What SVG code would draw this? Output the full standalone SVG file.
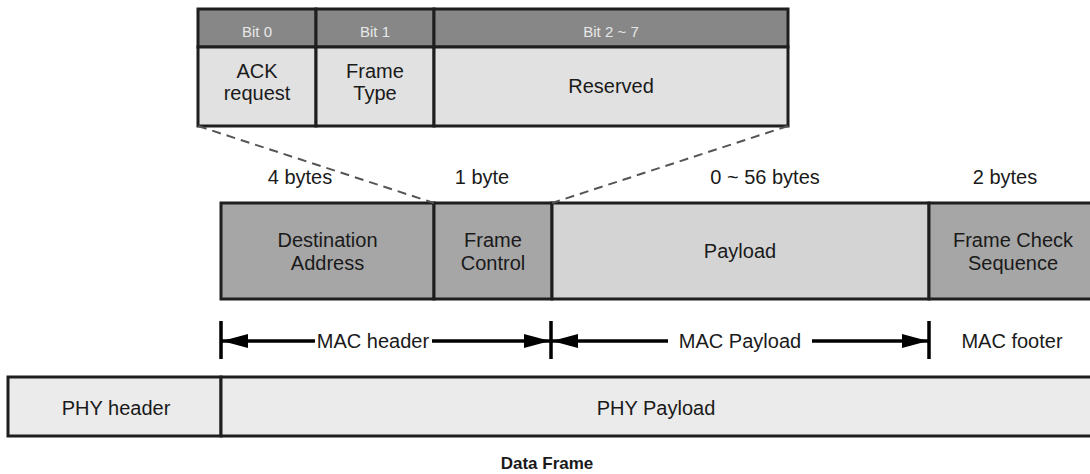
<svg xmlns="http://www.w3.org/2000/svg" width="1090" height="474" viewBox="0 0 1090 474">
  <style>
    .t { font-family: "Liberation Sans", Arial, sans-serif; font-size: 20px; fill: #1a1a1a; text-anchor: middle; }
    .hd { font-family: "Liberation Sans", Arial, sans-serif; font-size: 15px; fill: #e8e8e8; text-anchor: middle; }
    .ttl { font-family: "Liberation Sans", Arial, sans-serif; font-size: 17px; font-weight: bold; fill: #1a1a1a; text-anchor: middle; }
    .cell { stroke: #1e1e1e; stroke-width: 3; }
    .dark { fill: #a6a6a6; }
    .light { fill: #d4d4d4; }
    .phy { fill: #ebebeb; }
    .bhead { fill: #878787; }
    .bbody { fill: #e1e1e1; }
    .dash { stroke: #555555; stroke-width: 2; stroke-dasharray: 9 6; fill: none; }
    .dim { stroke: #000000; stroke-width: 3.5; fill: none; marker-end: url(#arr); }
    .tick { stroke: #000000; stroke-width: 3.5; }
  </style>
  <defs>
    <marker id="arr" markerUnits="userSpaceOnUse" markerWidth="27" markerHeight="14" refX="26" refY="7" orient="auto">
      <path d="M0,0 L26,7 L0,14 Z" fill="#000000"/>
    </marker>
  </defs>
  <rect width="1090" height="474" fill="#ffffff"/>

  <!-- Bit field table -->
  <g id="bit0">
    <rect class="cell bhead" x="198" y="9" width="118" height="38"/>
    <rect class="cell bbody" x="198" y="47" width="118" height="79"/>
    <text class="hd" x="257" y="37">Bit 0</text>
    <text class="t" x="257" y="78">ACK</text>
    <text class="t" x="257" y="100">request</text>
  </g>
  <g id="bit1">
    <rect class="cell bhead" x="316" y="9" width="118" height="38"/>
    <rect class="cell bbody" x="316" y="47" width="118" height="79"/>
    <text class="hd" x="375" y="37">Bit 1</text>
    <text class="t" x="375" y="78">Frame</text>
    <text class="t" x="375" y="100">Type</text>
  </g>
  <g id="bit2-7">
    <rect class="cell bhead" x="434" y="9" width="354" height="38"/>
    <rect class="cell bbody" x="434" y="47" width="354" height="79"/>
    <text class="hd" x="611" y="37">Bit 2 ~ 7</text>
    <text class="t" x="611" y="93">Reserved</text>
  </g>

  <!-- Byte size labels -->
  <g id="sizes">
    <text class="t" x="300" y="184">4 bytes</text>
    <text class="t" x="482" y="184">1 byte</text>
    <text class="t" x="765" y="184">0 ~ 56 bytes</text>
    <text class="t" x="1005" y="184">2 bytes</text>
  </g>

  <!-- MAC frame row -->
  <g id="dest-addr">
    <rect class="cell dark" x="221" y="203" width="213" height="96"/>
    <text class="t" x="327.5" y="247">Destination</text>
    <text class="t" x="327.5" y="270">Address</text>
  </g>
  <g id="frame-control">
    <rect class="cell dark" x="434" y="203" width="118" height="96"/>
    <text class="t" x="493" y="247">Frame</text>
    <text class="t" x="493" y="270">Control</text>
  </g>
  <g id="payload">
    <rect class="cell light" x="552" y="203" width="377" height="96"/>
    <text class="t" x="740" y="258">Payload</text>
  </g>
  <g id="fcs">
    <rect class="cell dark" x="929" y="203" width="175" height="96"/>
    <text class="t" x="1013" y="247">Frame Check</text>
    <text class="t" x="1013" y="270">Sequence</text>
  </g>

  <!-- PHY row -->
  <g id="phy-header">
    <rect class="cell phy" x="8" y="377" width="213" height="59"/>
    <text class="t" x="116" y="415">PHY header</text>
  </g>
  <g id="phy-payload">
    <rect class="cell phy" x="221" y="377" width="885" height="59"/>
    <text class="t" x="656" y="415">PHY Payload</text>
  </g>

  <!-- Connectors -->
  <g id="connectors">
    <line class="dash" x1="198" y1="126" x2="434" y2="203"/>
    <line class="dash" x1="788" y1="126" x2="552" y2="203"/>
    <line class="tick" x1="221" y1="321" x2="221" y2="359"/>
    <line class="tick" x1="551" y1="321" x2="551" y2="359"/>
    <line class="tick" x1="929" y1="321" x2="929" y2="359"/>
    <line class="dim" x1="315" y1="341" x2="222" y2="341"/>
    <line class="dim" x1="432" y1="341" x2="550" y2="341"/>
    <line class="dim" x1="668" y1="341" x2="552" y2="341"/>
    <line class="dim" x1="812" y1="341" x2="928" y2="341"/>
  </g>

  <g id="dim-labels">
    <text class="t" x="373" y="348">MAC header</text>
    <text class="t" x="740" y="348">MAC Payload</text>
    <text class="t" x="1012" y="348">MAC footer</text>
  </g>

  <g id="title">
    <text class="ttl" x="547" y="469">Data Frame</text>
  </g>
</svg>
